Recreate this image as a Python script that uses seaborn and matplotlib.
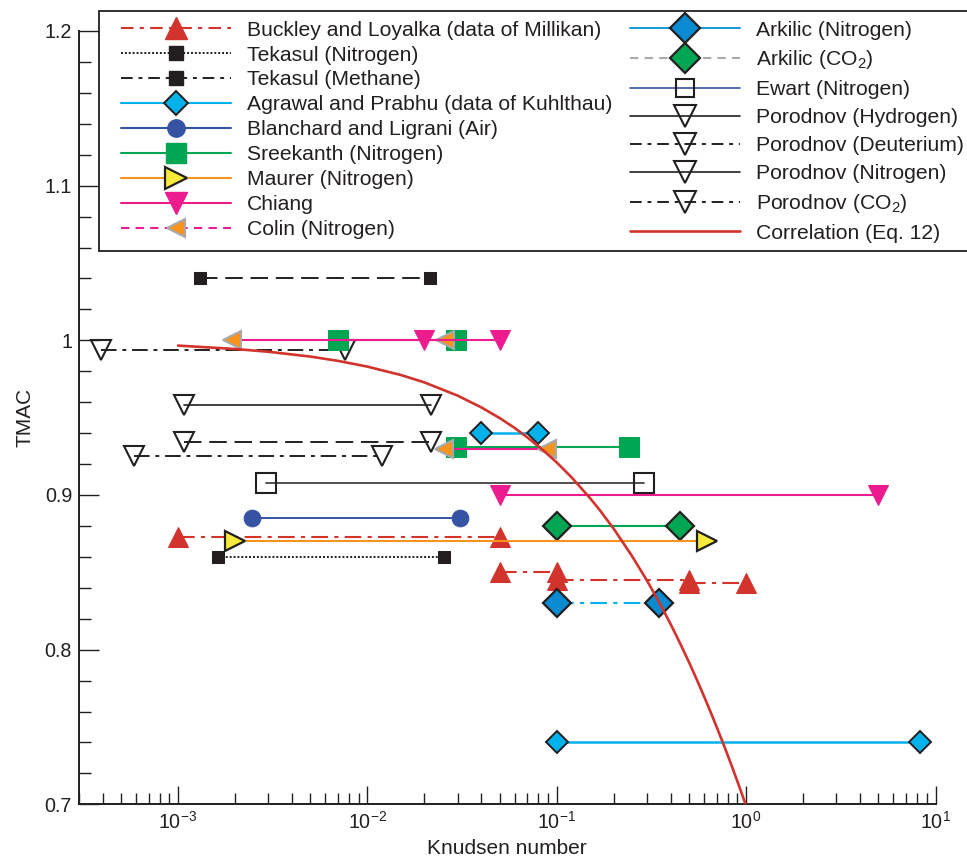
import matplotlib
matplotlib.use("Agg")
import numpy as np
import pandas as pd
import matplotlib.pyplot as plt
import seaborn as sns
from matplotlib.lines import Line2D
from matplotlib.patches import Rectangle
from matplotlib.ticker import (FixedLocator, FuncFormatter, MultipleLocator,
                               LogLocator, NullFormatter, LogFormatterSciNotation)

# ---------------- data ----------------
buckley_kn = [[1e-3, 0.05], [0.05, 0.1], [0.1, 0.5], [0.5, 1.0]]
buckley_tmac = [[0.873, 0.873], [0.850, 0.850], [0.845, 0.845], [0.843, 0.843]]
tekasul_n2_kn = [[1.62e-3, 0.0255]]
tekasul_n2_tmac = [[0.86, 0.86]]
tekasul_ch4_kn = [[1.3e-3, 0.0215]]
tekasul_ch4_tmac = [[1.04, 1.04]]
agrawal_kn = [[0.04, 0.08], [0.1, 8.3]]
agrawal_tmac = [[0.94, 0.94], [0.74, 0.74]]
blanchard_kn = [[2.47e-3, 0.031]]
blanchard_tmac = [[0.885, 0.885]]
sreekanth_kn = [[0.007, 0.0295], [0.0295, 0.242]]
sreekanth_tmac = [[1.0, 1.0], [0.931, 0.931]]
maurer_kn = [[2.0e-3, 0.62]]
maurer_tmac = [[0.87, 0.87]]
chiang_kn = [[0.02, 0.05], [0.05, 5.0]]
chiang_tmac = [[1.0, 1.0], [0.9, 0.9]]
colin_kn = [[1.93e-3, 0.0258], [0.0255, 0.0887]]
colin_tmac = [[1.0, 1.0], [0.93, 0.93]]
arkilic_n2_kn = [[0.1, 0.345]]
arkilic_n2_tmac = [[0.83, 0.83]]
arkilic_co2_kn = [[0.1, 0.45]]
arkilic_co2_tmac = [[0.88, 0.88]]
ewart_kn = [[2.93e-3, 0.29]]
ewart_tmac = [[0.908, 0.908]]
porodnov_h2_kn = [[1.07e-3, 0.0217]]
porodnov_h2_tmac = [[0.958, 0.958]]
porodnov_d2_kn = [[3.94e-4, 7.65e-3]]
porodnov_d2_tmac = [[0.994, 0.994]]
porodnov_n2_kn = [[1.07e-3, 0.0217]]
porodnov_n2_tmac = [[0.9345, 0.9345]]
porodnov_co2_kn = [[5.89e-4, 0.0119]]
porodnov_co2_tmac = [[0.925, 0.925]]
corr_kn = [1e-3, 2e-3, 3e-3, 5e-3, 7e-3, 0.01, 0.015, 0.02, 0.03, 0.04, 0.05,
           0.06, 0.07, 0.085, 0.1, 0.12, 0.15, 0.17, 0.2, 0.25, 0.3, 0.35,
           0.4, 0.45, 0.5, 0.55, 0.6, 0.65, 0.7, 0.75, 0.8, 0.85, 0.9, 0.95,
           1.0]
corr_tmac = [0.9966, 0.9944, 0.9926, 0.9895, 0.9867, 0.9830, 0.9776, 0.9728,
             0.9642, 0.9566, 0.9497, 0.9433, 0.9372, 0.9288, 0.9210, 0.9113,
             0.8979, 0.8897, 0.8781, 0.8604, 0.8445, 0.8299, 0.8163, 0.8036,
             0.7917, 0.7804, 0.7697, 0.7595, 0.7498, 0.7405, 0.7316, 0.7230,
             0.7147, 0.7067, 0.6990]

legend_labels_left = [
    "Buckley and Loyalka (data of Millikan)", "Tekasul (Nitrogen)",
    "Tekasul (Methane)", "Agrawal and Prabhu (data of Kuhlthau)",
    "Blanchard and Ligrani (Air)", "Sreekanth (Nitrogen)", "Maurer (Nitrogen)",
    "Chiang", "Colin (Nitrogen)",
]
legend_labels_right = [
    "Arkilic (Nitrogen)", "Arkilic (CO$_2$)",
    "Ewart (Nitrogen)", "Porodnov (Hydrogen)", "Porodnov (Deuterium)",
    "Porodnov (Nitrogen)", "Porodnov (CO$_2$)", "Correlation (Eq. 12)",
]
x_label = "Knudsen number"
y_label = "TMAC"
y_ticks = [0.7, 0.8, 0.9, 1.0, 1.1, 1.2]

# ---------------- style ----------------
sns.set_style("ticks")
plt.rcParams["font.family"] = ["Liberation Sans", "DejaVu Sans"]
plt.rcParams["mathtext.fontset"] = "custom"
plt.rcParams["mathtext.rm"] = "Liberation Sans"
plt.rcParams["mathtext.it"] = "Liberation Sans:italic"
plt.rcParams["mathtext.bf"] = "Liberation Sans:bold"
plt.rcParams["mathtext.default"] = "regular"

RED = "#D2332C"
CYAN = "#00B2EC"
ABLUE = "#0A8AD0"
NAVY = "#3653A3"
GREEN = "#00A651"
ORANGE = "#F7941D"
YELLOW = "#F6EB3B"
MAGENTA = "#EC1C8E"
GREY = "#A7A9AC"
BLACK = "#231F20"

DASHDOT = (0, (8, 3, 2, 3))
DASHED = (0, (9, 4))
DOTTED = (0, (1, 1))
LEG_DD = (0, (6, 3, 2, 3))

fig = plt.figure(figsize=(9.67, 8.61), dpi=100)
ax = fig.add_axes([79 / 967, 1 - 804.3 / 861, (935.5 - 79) / 967, (804.3 - 31) / 861])
ax.set_xscale("log")


def draw(kn_list, tmac_list, **style):
    for kn, tm in zip(kn_list, tmac_list):
        sns.lineplot(x=kn, y=tm, ax=ax, estimator=None, sort=False,
                     legend=False, **style)


draw(tekasul_ch4_kn, tekasul_ch4_tmac, color=BLACK, lw=1.4, ls=DASHED,
     marker="s", ms=9, mfc=BLACK, mec=BLACK)
draw(porodnov_d2_kn, porodnov_d2_tmac, color=BLACK, lw=1.4, ls=DASHDOT,
     marker="v", ms=15, mfc="none", mec=BLACK, mew=1.5)
draw(porodnov_h2_kn, porodnov_h2_tmac, color=BLACK, lw=1.2, ls="-",
     marker="v", ms=15, mfc="none", mec=BLACK, mew=1.5)
draw(porodnov_n2_kn, porodnov_n2_tmac, color=BLACK, lw=1.4, ls=DASHED,
     marker="v", ms=15, mfc="none", mec=BLACK, mew=1.5)
draw(porodnov_co2_kn, porodnov_co2_tmac, color=BLACK, lw=1.4, ls=DASHDOT,
     marker="v", ms=15, mfc="none", mec=BLACK, mew=1.5)
draw(ewart_kn, ewart_tmac, color="#333333", lw=1.2, ls="-",
     marker="s", ms=14, mfc="none", mec=BLACK, mew=1.5)
draw(blanchard_kn, blanchard_tmac, color=NAVY, lw=1.4, ls="-",
     marker="o", ms=12, mfc=NAVY, mec=NAVY)
draw(buckley_kn, buckley_tmac, color=RED, lw=1.5, ls=DASHDOT,
     marker="^", ms=14, mfc=RED, mec=RED)
draw(tekasul_n2_kn, tekasul_n2_tmac, color=BLACK, lw=1.4, ls=DOTTED,
     marker="s", ms=9, mfc=BLACK, mec=BLACK)
draw(sreekanth_kn, sreekanth_tmac, color=GREEN, lw=1.5, ls="-",
     marker="s", ms=15, mfc=GREEN, mec=GREEN)
draw(colin_kn, colin_tmac, color=MAGENTA, lw=1.5, ls="-",
     marker="<", ms=13, mfc=ORANGE, mec=GREY, mew=1.5)
draw(chiang_kn, chiang_tmac, color=MAGENTA, lw=1.5, ls="-",
     marker="v", ms=15, mfc=MAGENTA, mec=MAGENTA)
draw(agrawal_kn, agrawal_tmac, color=CYAN, lw=1.8, ls="-",
     marker="D", ms=11.5, mfc=CYAN, mec=BLACK, mew=1.4)
draw(arkilic_co2_kn, arkilic_co2_tmac, color=GREEN, lw=1.5, ls="-",
     marker="D", ms=14.5, mfc=GREEN, mec=BLACK, mew=1.6)
draw(arkilic_n2_kn, arkilic_n2_tmac, color=CYAN, lw=1.5, ls=DASHDOT,
     marker="D", ms=14.5, mfc=ABLUE, mec=BLACK, mew=1.6)
draw(maurer_kn, maurer_tmac, color=ORANGE, lw=1.5, ls="-",
     marker=">", ms=15, mfc=YELLOW, mec=BLACK, mew=1.6)
sns.lineplot(x=corr_kn, y=corr_tmac, ax=ax, estimator=None, sort=False,
             legend=False, color=RED, lw=1.9, zorder=6)

# ---------------- axes ----------------
ax.set_xlim(3e-4, 10)
ax.set_ylim(0.7, 1.2)
ax.xaxis.set_major_locator(LogLocator(base=10, numticks=20))
ax.xaxis.set_major_formatter(LogFormatterSciNotation())
ax.xaxis.set_minor_locator(LogLocator(base=10, subs=np.arange(2, 10), numticks=40))
ax.xaxis.set_minor_formatter(NullFormatter())
ax.yaxis.set_major_locator(FixedLocator(y_ticks))
ax.yaxis.set_major_formatter(FuncFormatter(lambda v, p: f"{v:g}"))
ax.yaxis.set_minor_locator(MultipleLocator(0.02))

for s in ["top", "right"]:
    ax.spines[s].set_visible(False)
for s in ["left", "bottom"]:
    ax.spines[s].set_linewidth(1.4)
    ax.spines[s].set_color(BLACK)

ax.tick_params(which="both", direction="in", top=False, right=False,
               width=1.0, color=BLACK, labelsize=14.2, labelcolor=BLACK, pad=5)
ax.tick_params(axis="x", which="major", length=13)
ax.tick_params(axis="x", which="minor", length=8)
ax.tick_params(axis="y", which="major", length=14.4)
ax.tick_params(axis="y", which="minor", length=8.6)

ax.set_xlabel(x_label, fontsize=15, color=BLACK)
ax.set_ylabel(y_label, fontsize=15, color=BLACK)
ax.xaxis.set_label_coords(0.5, -0.045)
ax.yaxis.set_label_coords(-0.052, 0.5)

# ---------------- legend ----------------
handles_left = [
    Line2D([], [], color=RED, lw=1.5, ls=LEG_DD, marker="^", ms=16, mfc=RED, mec=RED),
    Line2D([], [], color=BLACK, lw=1.4, ls=DOTTED, marker="s", ms=9.5, mfc=BLACK, mec=BLACK),
    Line2D([], [], color=BLACK, lw=1.4, ls=LEG_DD, marker="s", ms=9.5, mfc=BLACK, mec=BLACK),
    Line2D([], [], color=CYAN, lw=1.5, ls="-", marker="D", ms=12.5, mfc=CYAN, mec=BLACK, mew=1.4),
    Line2D([], [], color=NAVY, lw=1.5, ls="-", marker="o", ms=12.5, mfc=NAVY, mec=NAVY),
    Line2D([], [], color=GREEN, lw=1.5, ls="-", marker="s", ms=15, mfc=GREEN, mec=GREEN),
    Line2D([], [], color=ORANGE, lw=1.5, ls="-", marker=">", ms=15.5, mfc=YELLOW, mec=BLACK, mew=1.6),
    Line2D([], [], color=MAGENTA, lw=1.5, ls="-", marker="v", ms=15.5, mfc=MAGENTA, mec=MAGENTA),
    Line2D([], [], color=MAGENTA, lw=1.5, ls=(0, (4, 3)), marker="<", ms=13.5, mfc=ORANGE, mec=GREY, mew=1.5),
]
handles_right = [
    Line2D([], [], color="#1A9BDB", lw=1.5, ls="-", marker="D", ms=15, mfc=ABLUE, mec=BLACK, mew=1.6),
    Line2D([], [], color=GREY, lw=1.5, ls=(0, (4, 3)), marker="D", ms=15, mfc=GREEN, mec=BLACK, mew=1.6),
    Line2D([], [], color=NAVY, lw=1.2, ls="-", marker="s", ms=13.5, mfc="none", mec=BLACK, mew=1.5),
    Line2D([], [], color=BLACK, lw=1.2, ls="-", marker="v", ms=15.5, mfc="none", mec=BLACK, mew=1.5),
    Line2D([], [], color=BLACK, lw=1.4, ls=LEG_DD, marker="v", ms=15.5, mfc="none", mec=BLACK, mew=1.5),
    Line2D([], [], color=BLACK, lw=1.2, ls="-", marker="v", ms=15.5, mfc="none", mec=BLACK, mew=1.5),
    Line2D([], [], color=BLACK, lw=1.4, ls=LEG_DD, marker="v", ms=15.5, mfc="none", mec=BLACK, mew=1.5),
    Line2D([], [], color=RED, lw=1.9, ls="-"),
]
common = dict(loc="upper left", bbox_transform=fig.transFigure, frameon=False,
              fontsize=15.25, borderpad=0, handlelength=5.2,
              handletextpad=0.75, numpoints=1)
leg1 = fig.legend(handles_left, legend_labels_left,
                  bbox_to_anchor=(110 / 967, 1 - 10 / 861),
                  labelspacing=0.28, **common)
leg2 = fig.legend(handles_right, legend_labels_right,
                  bbox_to_anchor=(619 / 967, 1 - 10 / 861),
                  labelspacing=0.42, **common)
for lg in (leg1, leg2):
    for t in lg.get_texts():
        t.set_color(BLACK)

fig.patches.append(Rectangle((99 / 967, 1 - 251 / 861), (990 - 99) / 967,
                             (251 - 11) / 861, transform=fig.transFigure,
                             fill=True, facecolor="white", edgecolor=BLACK,
                             lw=1.3, zorder=0.5))

fig.savefig("out.png", dpi=100)
